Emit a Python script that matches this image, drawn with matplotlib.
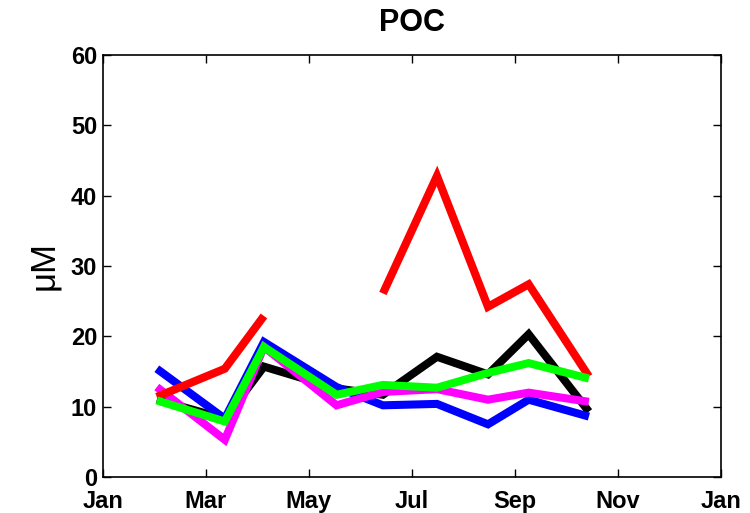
import numpy as np
import matplotlib.pyplot as plt

plt.rcParams['font.family'] = ['Liberation Sans', 'DejaVu Sans']

# sampling times in months from Jan 1
months = [1.05, 2.37, 3.13, 4.54, 5.44, 6.49, 7.48, 8.27, 9.44]

poc_black = [11.0, 8.3, 15.7, 12.6, 11.7, 17.1, 14.6, 20.3, 9.3]
poc_blue = [15.4, 8.3, 19.2, 12.8, 10.2, 10.4, 7.5, 11.0, 8.6]
poc_magenta = [12.8, 5.3, 18.5, 10.2, 12.1, 12.5, 11.0, 12.0, 10.7]
poc_red = [11.4, 15.4, 22.9, np.nan, 26.1, 42.8, 24.2, 27.4, 14.3]
poc_green = [10.9, 7.9, 18.5, 11.7, 13.1, 12.7, 14.8, 16.2, 14.0]

tick_pos = [0, 2, 4, 6, 8, 10, 12]
tick_names = ['Jan', 'Mar', 'May', 'Jul', 'Sep', 'Nov', 'Jan']

fig = plt.figure(figsize=(7.5, 5.13), dpi=100)
ax = fig.add_axes([0.137, 0.070, 0.824, 0.823])

series = [(poc_black, 'black'), (poc_blue, 'blue'), (poc_magenta, 'magenta'),
          (poc_red, 'red'), (poc_green, '#00ff00')]
for vals, col in series:
    ax.plot(months, vals, color=col, linewidth=5.8,
            solid_joinstyle='miter', solid_capstyle='butt')

ax.set_xlim(0, 12)
ax.set_ylim(0, 60)
ax.set_xticks(tick_pos)
ax.set_xticklabels(tick_names)
ax.set_yticks(range(0, 61, 10))
ax.tick_params(direction='in', length=6, width=1, top=True, right=True,
               labelsize=17)
ax.tick_params(axis='x', pad=9)
ax.tick_params(axis='y', pad=4)
for lab in ax.get_xticklabels() + ax.get_yticklabels():
    lab.set_fontweight('bold')
for sp in ax.spines.values():
    sp.set_linewidth(1.2)

ax.set_ylabel('μM', fontsize=25, labelpad=8)
ax.set_title('POC', fontsize=22, fontweight='bold', pad=17)

fig.savefig('out.png', dpi=100)
